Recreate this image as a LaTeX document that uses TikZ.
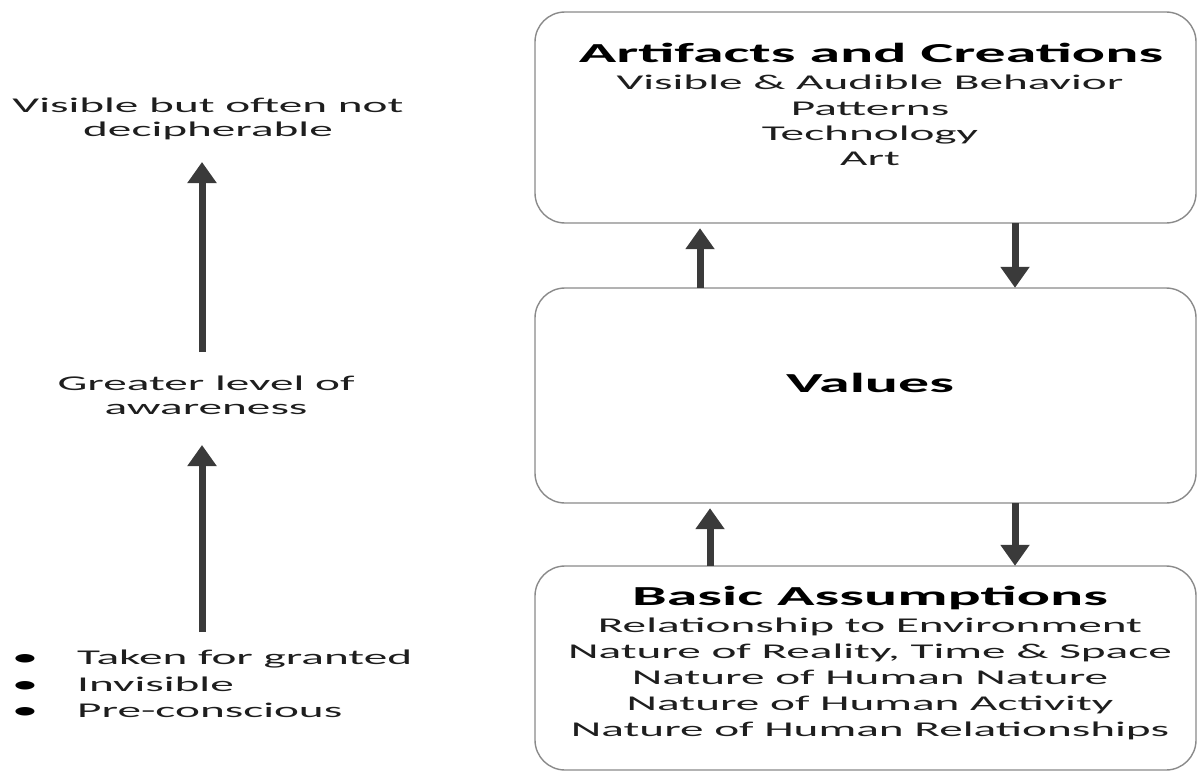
\documentclass[tikz,border=0pt]{standalone}
\usepackage{fontspec}
\setmainfont{Carlito}[FakeStretch=2.25]
\usetikzlibrary{arrows.meta,calc}
\definecolor{arrc}{HTML}{3A3A3A}
\definecolor{boxc}{HTML}{8A8A8A}
\definecolor{txtc}{HTML}{1E1E1E}
\tikzset{
  layerbox/.style={draw=boxc, line width=1.4pt, rounded corners=30pt, fill=white, inner sep=0pt},
  arr/.style={draw=arrc, line width=7pt, -{Triangle[width=28pt,length=21pt]}},
  bodytxt/.style={anchor=base, font=\fontsize{21}{25}\selectfont, text=txtc, inner sep=0pt},
  bullettxt/.style={anchor=base, font=\fontsize{24}{25}\selectfont, text=black, inner sep=0pt},
  ttl/.style={anchor=base, font=\fontsize{27.5}{30}\bfseries\selectfont, text=black, inner sep=0pt},
}
\begin{document}
\begin{tikzpicture}[x=1pt,y=-1pt]
\useasboundingbox (0,0) rectangle (1198,773);
% boxes
\draw[layerbox] (535,12) rectangle (1196,223);
\node (art) at (865.5,117.5) [minimum width=661pt, minimum height=211pt, inner sep=0pt] {};
\draw[layerbox] (535,288) rectangle (1196,503);
\node (vals) at (865.5,395.5) [minimum width=661pt, minimum height=215pt, inner sep=0pt] {};
\draw[layerbox] (535,566) rectangle (1196,770);
\node (basic) at (865.5,668) [minimum width=661pt, minimum height=204pt, inner sep=0pt] {};
% texts in the top box
\node[ttl] (artT) at (871,63) {Artifacts and Creations};
\node[bodytxt] (art1) at (870,90) {Visible \& Audible Behavior};
\node[bodytxt] (art2) at (870,115) {Patterns};
\node[bodytxt] (art3) at (870,140) {Technology};
\node[bodytxt] (art4) at (870,165) {Art};
% middle box
\node[ttl] (valT) at (870,392) {Values};
% bottom box
\node[ttl] (basT) at (870,605) {Basic Assumptions};
\node[bodytxt] (bas1) at (870,632) {Relationship to Environment};
\node[bodytxt] (bas2) at (870,658) {Nature of Reality, Time \& Space};
\node[bodytxt] (bas3) at (870,684) {Nature of Human Nature};
\node[bodytxt] (bas4) at (870,710) {Nature of Human Activity};
\node[bodytxt] (bas5) at (870,736) {Nature of Human Relationships};
% arrows between boxes
\coordinate (ua) at (700,0);
\coordinate (da) at (1015,0);
\coordinate (ub) at (710,0);
\draw[arr] (ua |- vals.north) -- ([yshift=-5pt]ua |- art.south);
\draw[arr] (da |- art.south) -- (da |- vals.north);
\draw[arr] (ub |- basic.north) -- ([yshift=-5pt]ub |- vals.south);
\draw[arr] (da |- vals.south) -- (da |- basic.north);
% left column
\node[bodytxt] (vis1) at (208,113) {Visible but often not};
\node[bodytxt] (vis2) at (208,136) {decipherable};
\node[bodytxt] (gr1) at (206,390) {Greater level of};
\node[bodytxt] (gr2) at (206,414) {awareness};
\node[bullettxt] (b1) at (25,665) {\char"2022};
\node[bullettxt] (b2) at (25,692) {\char"2022};
\node[bullettxt] (b3) at (25,718) {\char"2022};
\node[bodytxt, anchor=base west] (l1) at (77,664) {Taken for granted};
\node[bodytxt, anchor=base west] (l2) at (77,691) {Invisible};
\node[bodytxt, anchor=base west] (l3) at (77,717) {Pre-conscious};
\coordinate (vis-s) at (202,162);
\coordinate (gr-n) at (202,352);
\coordinate (gr-s) at (202,445);
\coordinate (li-n) at (202,632);
\draw[arr] (gr-n) -- (vis-s);
\draw[arr] (li-n) -- (gr-s);
\end{tikzpicture}
\end{document}
